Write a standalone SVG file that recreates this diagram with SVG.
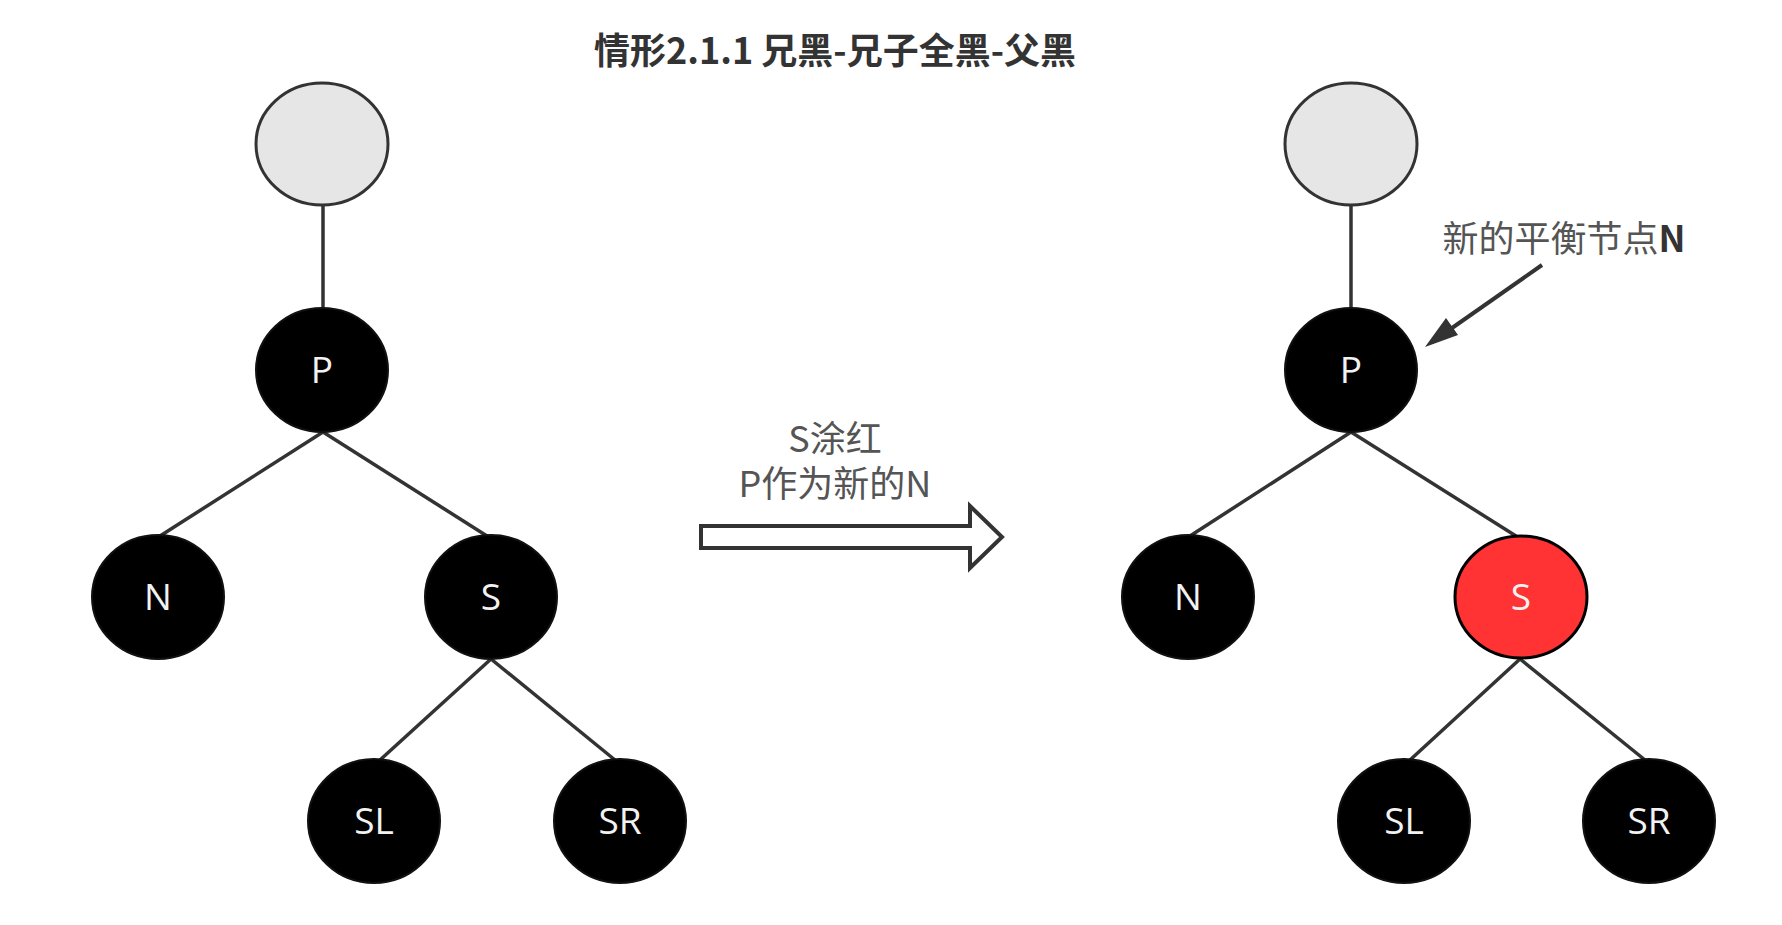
<svg xmlns="http://www.w3.org/2000/svg" width="1782" height="925" viewBox="0 0 1782 925">
<defs>
<style>
.edge{stroke:#333;stroke-width:3.5;fill:none}
.gray{fill:#e6e6e6;stroke:#333;stroke-width:3}
.blk{fill:#000;stroke:#111;stroke-width:2}
.red{fill:#ff3333;stroke:#000;stroke-width:3}
.lbl{font-family:"Open Sans","Noto Sans",sans-serif;font-size:37px;fill:#f2f2f2;text-anchor:middle}
.cap{font-family:"Noto Sans CJK SC",sans-serif;font-size:36px;fill:#555;text-anchor:middle}
</style>
</defs>
<rect width="1782" height="925" fill="#fff"/>
<text x="835" y="64" font-family="Noto Sans CJK SC, sans-serif" font-size="36" font-weight="bold" fill="#333" text-anchor="middle">情形2.1.1 兄黑-兄子全黑-父黑</text>

<g id="connectors">
<line class="edge" x1="323" y1="206" x2="323" y2="308"/>
<line class="edge" x1="323" y1="432" x2="160" y2="536"/>
<line class="edge" x1="323" y1="432" x2="487" y2="536"/>
<line class="edge" x1="491" y1="659" x2="380" y2="760"/>
<line class="edge" x1="491" y1="659" x2="615" y2="760"/>
<line class="edge" x1="1351" y1="206" x2="1351" y2="308"/>
<line class="edge" x1="1351" y1="432" x2="1190" y2="536"/>
<line class="edge" x1="1351" y1="432" x2="1516" y2="536"/>
<line class="edge" x1="1520" y1="659" x2="1410" y2="760"/>
<line class="edge" x1="1520" y1="659" x2="1645" y2="760"/>
<path id="transform-arrow" d="M701,526 L970,526 L970,506 L1002,537 L970,568 L970,548 L701,548 Z" fill="#fff" stroke="#333" stroke-width="4" stroke-linejoin="miter"/>
<line x1="1542" y1="265" x2="1432" y2="342" stroke="#333" stroke-width="4"/>
<path d="M1425,347 L1446,318 L1458,335 Z" fill="#333"/>
</g>

<g id="left-root"><ellipse class="gray" cx="322" cy="144" rx="66" ry="61"/></g>
<g id="left-P"><ellipse class="blk" cx="322" cy="370" rx="66" ry="62"/><text class="lbl" x="322" y="383">P</text></g>
<g id="left-N"><ellipse class="blk" cx="158" cy="597" rx="66" ry="62"/><text class="lbl" x="158" y="610">N</text></g>
<g id="left-S"><ellipse class="blk" cx="491" cy="597" rx="66" ry="62"/><text class="lbl" x="491" y="610">S</text></g>
<g id="left-SL"><ellipse class="blk" cx="374" cy="821" rx="66" ry="62"/><text class="lbl" x="374" y="834">SL</text></g>
<g id="left-SR"><ellipse class="blk" cx="620" cy="821" rx="66" ry="62"/><text class="lbl" x="620" y="834">SR</text></g>

<g id="transform-label">
<text class="cap" x="835" y="452">S涂红</text>
<text class="cap" x="835" y="497">P作为新的N</text>
</g>

<g id="right-root"><ellipse class="gray" cx="1351" cy="144" rx="66" ry="61"/></g>
<g id="right-P"><ellipse class="blk" cx="1351" cy="370" rx="66" ry="62"/><text class="lbl" x="1351" y="383">P</text></g>
<g id="right-N"><ellipse class="blk" cx="1188" cy="597" rx="66" ry="62"/><text class="lbl" x="1188" y="610">N</text></g>
<g id="right-S"><ellipse class="red" cx="1521" cy="597" rx="66" ry="61"/><text class="lbl" x="1521" y="610">S</text></g>
<g id="right-SL"><ellipse class="blk" cx="1404" cy="821" rx="66" ry="62"/><text class="lbl" x="1404" y="834">SL</text></g>
<g id="right-SR"><ellipse class="blk" cx="1649" cy="821" rx="66" ry="62"/><text class="lbl" x="1649" y="834">SR</text></g>

<g id="callout">
<text x="1564" y="252" font-family="Noto Sans CJK SC, sans-serif" font-size="36" fill="#555" text-anchor="middle">新的平衡节点<tspan font-weight="bold" fill="#333">N</tspan></text>
</g>
</svg>
